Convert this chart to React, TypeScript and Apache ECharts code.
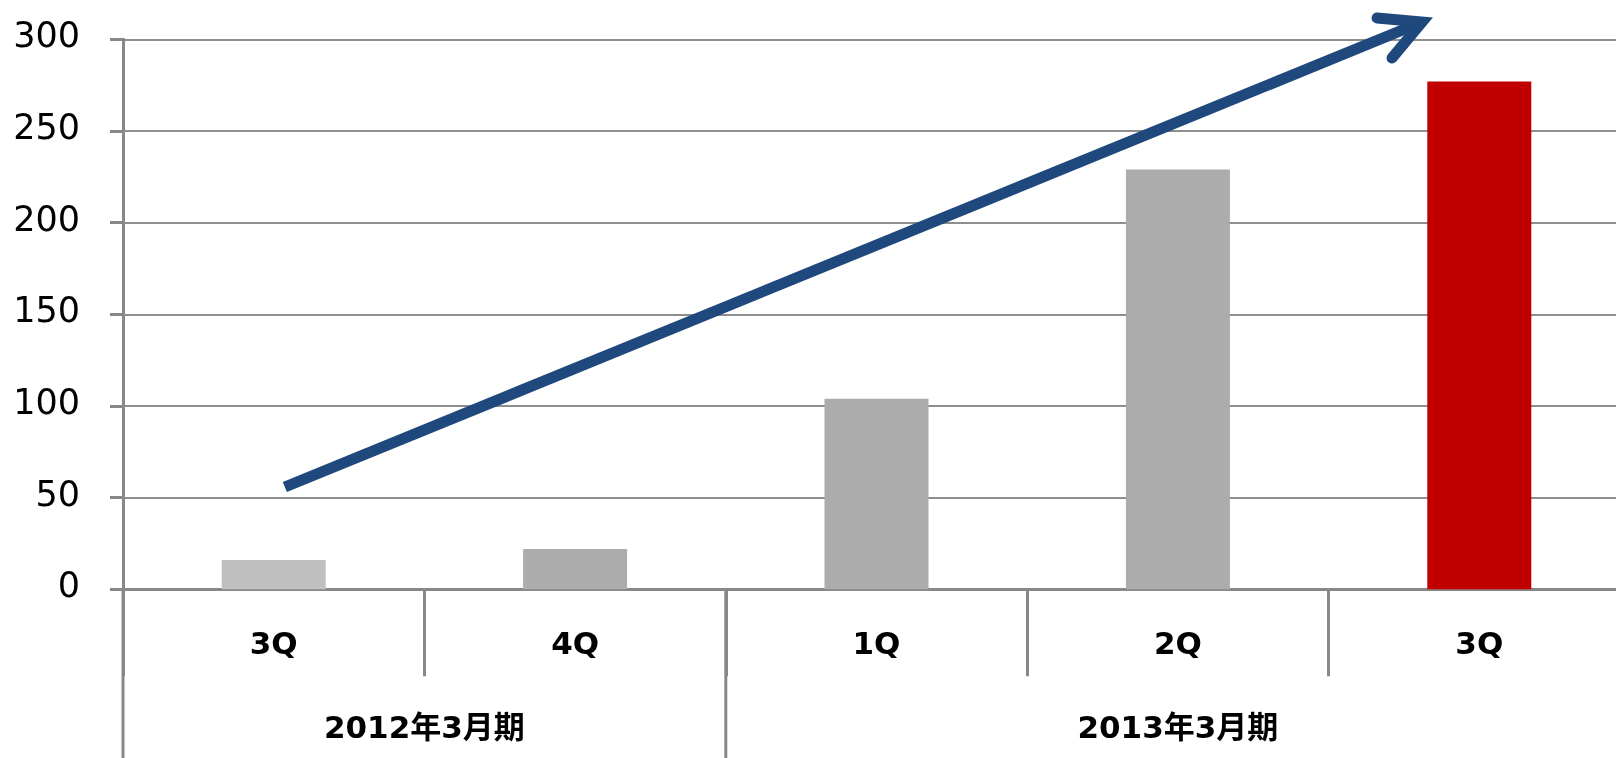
import React, { useEffect, useRef } from "react";
import * as echarts from "echarts";

const categories = ["3Q", "4Q", "1Q", "2Q", "3Q"];
const values = [16, 22, 104, 229, 277];
const barColors = ["#bfbfbf", "#acacac", "#acacac", "#acacac", "#c00000"];
const yMin = 0;
const yMax = 300;
const yInterval = 50;
const groups = [
  { label: "2012年3月期", start: 0, end: 2 },
  { label: "2013年3月期", start: 2, end: 5 },
];
// trend arrow in data coordinates (category index, value)
const arrowStart = [0.037, 55.8];
const arrowEnd = [3.81, 309.4];

const FONT = "'DejaVu Sans', 'Noto Sans CJK JP', sans-serif";
const AXIS_COLOR = "#888888";
const ARROW_COLOR = "#1F497D";

export default function App() {
  const ref = useRef<HTMLDivElement>(null);
  useEffect(() => {
    const chart = echarts.init(ref.current!, null, { renderer: "svg" });
    chart.setOption({
      animation: false,
      grid: { left: 123, top: 39.3, width: 1507, height: 550 },
      xAxis: {
        type: "category",
        data: categories,
        axisLine: { show: true, lineStyle: { color: AXIS_COLOR, width: 3 } },
        axisTick: { show: true, interval: 0, length: 87, lineStyle: { color: AXIS_COLOR, width: 3 } },
        axisLabel: {
          interval: 0,
          margin: 38,
          fontSize: 31,
          fontWeight: "bold",
          color: "#000",
          fontFamily: FONT,
          lineHeight: 31,
        },
        splitLine: { show: false },
      },
      yAxis: {
        type: "value",
        min: yMin,
        max: yMax,
        interval: yInterval,
        axisLine: { show: true, lineStyle: { color: AXIS_COLOR, width: 3 } },
        axisTick: { show: true, length: 13, lineStyle: { color: AXIS_COLOR, width: 3 } },
        axisLabel: {
          margin: 43,
          fontSize: 35,
          color: "#000",
          fontFamily: FONT,
          verticalAlign: "bottom",
          lineHeight: 8,
        },
        splitLine: { show: true, lineStyle: { color: "#8e8e8e", width: 2 } },
      },
      series: [
        {
          type: "bar",
          barWidth: 104,
          data: values.map((v, i) => ({ value: v, itemStyle: { color: barColors[i] } })),
        },
      ],
    });

    const c0 = chart.convertToPixel({ xAxisIndex: 0 }, 0) as number;
    const c1 = chart.convertToPixel({ xAxisIndex: 0 }, 1) as number;
    const band = c1 - c0;
    const boundary = (i: number) => c0 - band / 2 + i * band;
    const px = (xi: number) => c0 + xi * band;
    const py = (v: number) => chart.convertToPixel({ yAxisIndex: 0 }, v) as number;
    const y0 = py(0);
    const bottom = 758;

    const sx = px(arrowStart[0]);
    const sy = py(arrowStart[1]);
    const ex = px(arrowEnd[0]);
    const ey = py(arrowEnd[1]);

    const graphic: any[] = [];
    groups.forEach((g) => {
      const x = boundary(g.start);
      graphic.push({
        type: "line",
        z: 50,
        shape: { x1: x, y1: y0, x2: x, y2: bottom },
        style: { stroke: AXIS_COLOR, lineWidth: 3 },
      });
      graphic.push({
        type: "text",
        z: 50,
        x: (boundary(g.start) + boundary(g.end)) / 2,
        y: y0 + 138,
        style: {
          text: g.label,
          fill: "#000",
          font: `bold 31px ${FONT}`,
          align: "center",
          verticalAlign: "middle",
        },
      });
    });
    graphic.push({
      type: "line",
      z: 100,
      shape: { x1: sx, y1: sy, x2: ex - 3, y2: ey + 1.2 },
      style: { stroke: ARROW_COLOR, lineWidth: 11, lineCap: "butt" },
    });
    graphic.push({
      type: "polyline",
      z: 100,
      shape: {
        points: [
          [ex - 45, ey - 4],
          [ex, ey],
          [ex - 30, ey + 36],
        ],
      },
      style: { stroke: ARROW_COLOR, lineWidth: 11, lineCap: "round", lineJoin: "miter", fill: "none" },
    });
    chart.setOption({ graphic });

    return () => chart.dispose();
  }, []);
  return (
    <div
      ref={ref}
      style={{ position: "fixed", left: 0, top: 0, width: 1640, height: 758 }}
    />
  );
}
